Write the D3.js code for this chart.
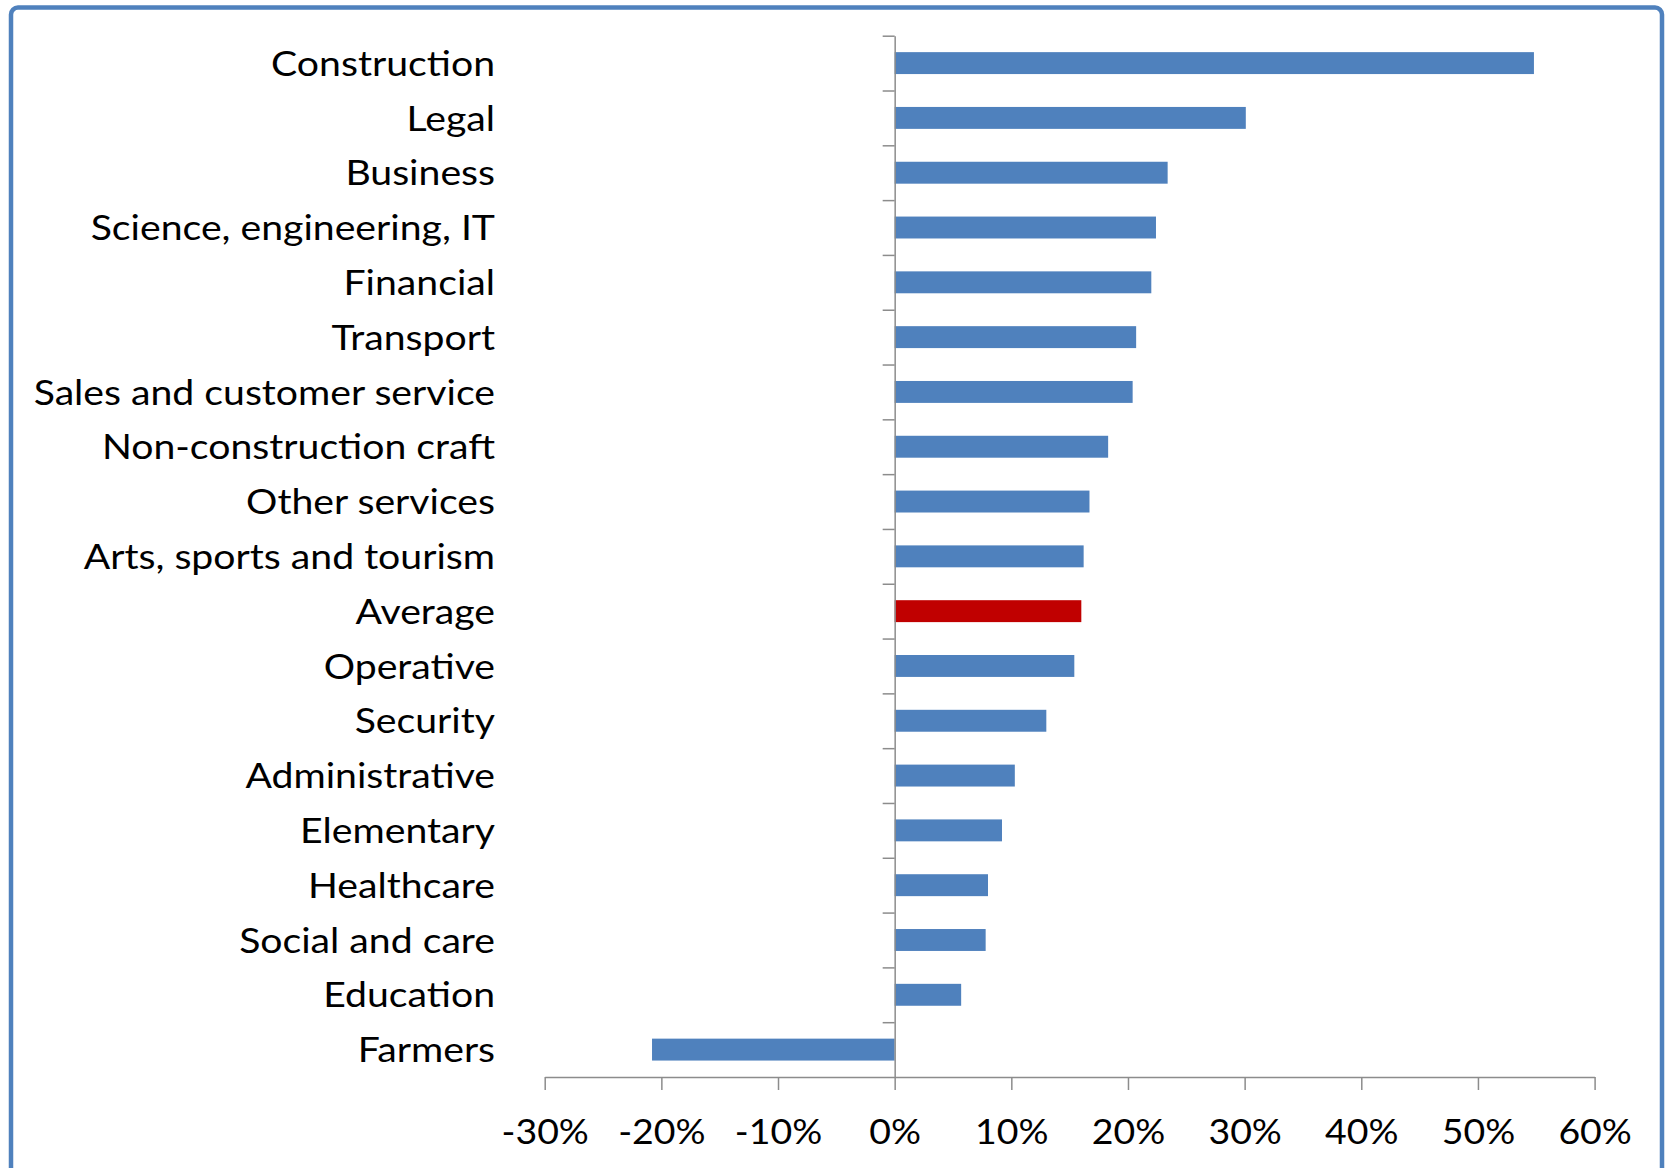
<!DOCTYPE html>
<html>
<head>
<meta charset="utf-8">
<script src="https://cdn.jsdelivr.net/npm/d3@7"></script>
<style>
    html, body { margin: 0; padding: 0; background: #fff; overflow: hidden; }
    text { font-family: Lato, 'Open Sans', sans-serif; fill: #000; }
</style>
</head>
<body>
<div id="chart"></div>
<script>
const categories = [
    'Construction', 'Legal', 'Business', 'Science, engineering, IT', 'Financial',
    'Transport', 'Sales and customer service', 'Non-construction craft', 'Other services',
    'Arts, sports and tourism', 'Average', 'Operative', 'Security', 'Administrative',
    'Elementary', 'Healthcare', 'Social and care', 'Education', 'Farmers'
];
const values = [
    0.548, 0.301, 0.234, 0.224, 0.220,
    0.207, 0.204, 0.183, 0.167,
    0.162, 0.160, 0.154, 0.130, 0.103,
    0.092, 0.080, 0.078, 0.057, -0.208
];
const highlight = 'Average';
const xTicks = [-0.3, -0.2, -0.1, 0, 0.1, 0.2, 0.3, 0.4, 0.5, 0.6];

const svgWidth = 1665;
const svgHeight = 1168;

const plot = { left: 544.7, right: 1594.6, top: 35.7, bottom: 1077 };

// the source text is a bit wider than Lato, so stretch it horizontally
const labelStretch = 1.12;
const tickStretch = 1.07;

const svg = d3.select('#chart').append('svg')
    .attr('width', svgWidth)
    .attr('height', svgHeight);

// Frame
svg.append('rect')
    .attr('x', 11)
    .attr('y', 7.5)
    .attr('width', 1651)
    .attr('height', 1220)
    .attr('rx', 7)
    .attr('fill', '#fff')
    .attr('stroke', '#4F81BD')
    .attr('stroke-width', 4.5);

const x = d3.scaleLinear()
    .domain([-0.3, 0.6])
    .range([plot.left, plot.right]);

const y = d3.scaleBand()
    .domain(categories)
    .range([plot.top, plot.bottom])
    .paddingInner(0.6)
    .paddingOuter(0.3);

// Bars
svg.selectAll('rect.bar')
    .data(categories)
    .enter()
    .append('rect')
    .attr('class', 'bar')
    .attr('x', (d, i) => x(Math.min(0, values[i])))
    .attr('y', d => y(d))
    .attr('width', (d, i) => Math.abs(x(values[i]) - x(0)))
    .attr('height', y.bandwidth())
    .attr('fill', d => d === highlight ? '#C00000' : '#4F81BD');

// Category labels
svg.selectAll('text.cat')
    .data(categories)
    .enter()
    .append('text')
    .attr('class', 'cat')
    .attr('transform', d => `translate(495,${y(d) + y.bandwidth() / 2}) scale(${labelStretch},1)`)
    .attr('dy', '0.36em')
    .style('text-anchor', 'end')
    .style('font-size', '35px')
    .text(d => d);

// Y axis with ticks between categories
const yEdge = d3.scaleLinear()
    .domain([0, categories.length])
    .range([plot.top, plot.bottom]);

const yAxis = svg.append('g')
    .attr('transform', `translate(${x(0)},0)`)
    .call(d3.axisLeft(yEdge)
        .tickValues(d3.range(categories.length))
        .tickFormat('')
        .tickSize(12)
        .tickSizeOuter(0));

// X axis
const xAxis = svg.append('g')
    .attr('transform', `translate(0,${plot.bottom})`)
    .call(d3.axisBottom(x)
        .tickValues(xTicks)
        .tickFormat(d => Math.round(d * 100) + '%')
        .tickSize(13)
        .tickSizeOuter(0));

xAxis.selectAll('text')
    .attr('y', null)
    .attr('transform', `translate(0,54) scale(${tickStretch},1)`)
    .attr('dy', '0.36em')
    .style('font-size', '35px')
    .style('font-family', 'Lato, sans-serif');

[xAxis, yAxis].forEach(g => {
    g.select('.domain').attr('stroke', '#8c8c8c').attr('stroke-width', 1.5);
    g.selectAll('.tick line').attr('stroke', '#8c8c8c').attr('stroke-width', 1.5);
});
</script>
</body>
</html>
